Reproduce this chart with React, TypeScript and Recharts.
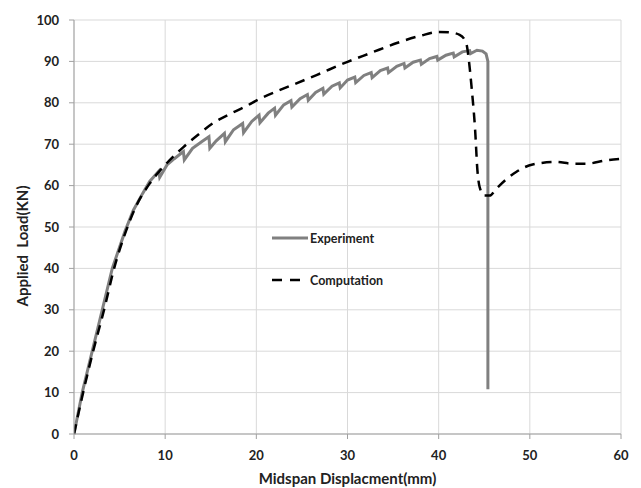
import React from 'react';
import { LineChart, Line, XAxis, YAxis, CartesianGrid, Legend, Label } from 'recharts';

const xTicks = [0, 10, 20, 30, 40, 50, 60];
const yTicks = [0, 10, 20, 30, 40, 50, 60, 70, 80, 90, 100];
const seriesNames = ['Experiment', 'Computation'];

const expX = [0, 0.9, 2, 3.1, 4.2, 5.6, 6.5, 7.5, 8.3, 9.3, 9.4, 10.2, 11, 12, 12.1, 13, 14, 14.8, 14.9, 15.6, 16.5, 16.6, 17.5, 18.5, 18.6, 19.5, 20.3, 20.4, 21.3, 22, 22.1, 23, 23.8, 23.9, 24.8, 25.6, 25.7, 26.5, 27.3, 27.4, 28.3, 29.1, 29.2, 30, 30.8, 30.9, 31.8, 32.6, 32.7, 33.6, 34.4, 34.5, 35.4, 36.2, 36.3, 37.2, 38, 38.1, 39, 39.8, 39.9, 40.8, 41.6, 41.7, 42.6, 43.4, 43.5, 44.2, 44.8, 45.2, 45.4, 45.4];
const expY = [0, 10, 20, 30, 40, 49, 54, 58, 61, 63.5, 62, 65, 66.5, 68.2, 66.2, 69, 70.6, 71.8, 69, 70.8, 72.6, 70.6, 73.5, 75, 72.8, 75.5, 77, 75.2, 77.5, 78.7, 77, 79.5, 80.5, 79, 81, 82, 80.6, 82.5, 83.5, 82.1, 84, 84.8, 83.6, 85.5, 86.2, 84.9, 86.6, 87.3, 86.1, 87.8, 88.4, 87.3, 88.8, 89.5, 88.4, 89.8, 90.3, 89.3, 90.7, 91.2, 90.3, 91.5, 92, 91.1, 92.3, 92.6, 91.9, 92.7, 92.5, 91.8, 90, 10.8];

const compX = [0, 1, 2.1, 3.3, 4.4, 5.7, 6.7, 8.3, 10, 12, 13.8, 15.2, 17.1, 18.9, 20.4, 22.5, 24.4, 26.6, 30, 32.5, 35.5, 38, 40, 41.2, 42.3, 43, 43.3, 43.6, 44, 44.25, 44.5, 45, 45.6, 46.3, 47.4, 48.5, 50.3, 52.9, 54.7, 56.2, 58.4, 60];
const compY = [0, 10, 20, 30, 40, 49, 54.5, 60.5, 65, 69.3, 72.6, 75, 77.3, 79.2, 81, 83, 84.7, 86.7, 89.9, 92, 94.5, 96.2, 97.1, 97, 96.4, 94.6, 90.5, 84, 73.4, 63.7, 59.6, 57.6, 57.6, 59.2, 61.5, 63.3, 65.1, 65.7, 65.3, 65.3, 66.1, 66.5];

const expData = expX.map((x, i) => ({ x, y: expY[i] }));
const compData = compX.map((x, i) => ({ x, y: compY[i] }));

const FONT = 'Lato, "Open Sans", sans-serif';

const LegendBox = (props: any) => {
  const payload = [...(props.payload || [])].sort(
    (a: any, b: any) => seriesNames.indexOf(a.value) - seriesNames.indexOf(b.value)
  );
  return (
    <div style={{ fontFamily: FONT, fontWeight: 700, fontSize: 12.5, color: '#222' }}>
      {payload.map((p: any, i: number) => (
        <div key={i} style={{ display: 'flex', alignItems: 'center', height: 20, marginBottom: i === 0 ? 22 : 0 }}>
          <svg width={40} height={20} style={{ display: 'block' }}>
            {p.value === 'Experiment' ? (
              <line x1={2} y1={10} x2={38} y2={10} stroke="#808080" strokeWidth={3} />
            ) : (
              <line x1={2} y1={10} x2={30} y2={10} stroke="#000" strokeWidth={2.5} strokeDasharray="10 8" />
            )}
          </svg>
          <span>{p.value}</span>
        </div>
      ))}
    </div>
  );
};

export default function App() {
  return (
    <div style={{ position: 'absolute', left: 0, top: 0, width: 641, height: 488, background: '#fff' }}>
      <LineChart width={641} height={488} margin={{ top: 20, right: 20, left: 0, bottom: 0 }} style={{ fontFamily: FONT }}>
        <CartesianGrid stroke="#d9d9d9" strokeWidth={1} />
        <XAxis
          type="number"
          dataKey="x"
          domain={[0, 60]}
          ticks={xTicks}
          height={54}
          axisLine={{ stroke: '#a0a0a0' }}
          tickLine={{ stroke: '#a0a0a0' }}
          tickSize={5}
          tickMargin={12}
          tick={{ fill: '#222', fontSize: 13, fontWeight: 700 }}
          allowDataOverflow
        >
          <Label value="Midspan Displacment(mm)" position="insideBottom" offset={4} style={{ fontSize: 15, fontWeight: 700, fill: '#222' }} />
        </XAxis>
        <YAxis
          type="number"
          domain={[0, 100]}
          ticks={yTicks}
          width={74}
          axisLine={{ stroke: '#a0a0a0' }}
          tickLine={{ stroke: '#a0a0a0' }}
          tickSize={5}
          tickMargin={10}
          tick={{ fill: '#222', fontSize: 13, fontWeight: 700 }}
        >
          <Label
            content={() => (
              <text
                x={28}
                y={246}
                transform="rotate(-90 28 246)"
                textAnchor="middle"
                style={{ fontSize: 15, fontWeight: 700, fill: '#222', whiteSpace: 'pre' }}
              >
                {'Applied  Load(KN)'}
              </text>
            )}
          />
        </YAxis>
        <Legend
          layout="vertical"
          align="center"
          verticalAlign="middle"
          content={<LegendBox />}
          wrapperStyle={{ position: 'absolute', left: 270, top: 228, width: 140 }}
        />
        <Line
          name="Experiment"
          data={expData}
          dataKey="y"
          type="linear"
          stroke="#808080"
          strokeWidth={3}
          dot={false}
          activeDot={false}
          isAnimationActive={false}
        />
        <Line
          name="Computation"
          data={compData}
          dataKey="y"
          type="monotone"
          stroke="#000"
          strokeWidth={2.5}
          strokeDasharray="10 7"
          dot={false}
          activeDot={false}
          isAnimationActive={false}
        />
      </LineChart>
    </div>
  );
}
